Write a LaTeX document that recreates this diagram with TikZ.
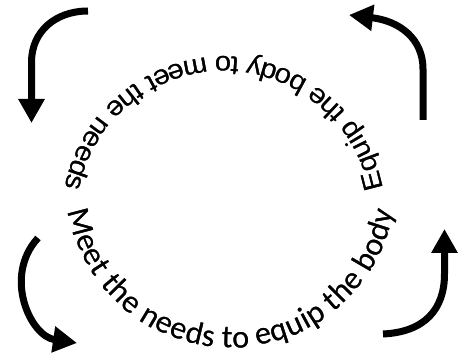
\documentclass[tikz,border=0pt]{standalone}
\usepackage{fontspec}
\newfontfamily\topfont[FakeStretch=1.08]{Liberation Sans}
\newfontfamily\botfont{Carlito}
\usetikzlibrary{decorations.text,arrows.meta}
\tikzset{
  bigarrow/.style={line width=7pt,-{Triangle[length=24pt,width=25pt]}},
  toptext/.style={decorate,decoration={text along path,text align={fit to path},
    text={|\color{#1}\topfont\fontsize{27}{27}\selectfont|Equip the body to meet the needs}}},
  bottext/.style={decorate,decoration={text along path,text align={fit to path},
    text={|\color{#1}\botfont\fontsize{32}{32}\selectfont|Meet the needs to equip the body}}},
}
\begin{document}
\begin{tikzpicture}[x=1pt,y=1pt]
\useasboundingbox (0,0) rectangle (467,354);
% circles for the texts
\coordinate (tc) at (224,135);
\coordinate (bc) at (231,171);
% shadows
\foreach \dx/\dy in {1.5/-1.5,2.5/-2.5,2/-3.5,3.5/-2,3/-3,4/-4} {
  \begin{scope}[opacity=0.22,shift={(\dx,\dy)}]
    \path[toptext=black] ([shift={(11:162)}]tc) arc[start angle=11,end angle=169,radius=162];
    \path[bottext=black] ([shift={(190:165)}]bc) arc[start angle=190,end angle=350,radius=165];
  \end{scope}
}
% texts
\path[toptext=black] ([shift={(11:162)}]tc) arc[start angle=11,end angle=169,radius=162];
\path[bottext=black] ([shift={(190:165)}]bc) arc[start angle=190,end angle=350,radius=165];
% arrows
\coordinate (a1s) at (88,343);
\coordinate (a1e) at (31.5,231);
\draw[bigarrow] (a1s) .. controls (55,343) and (31.5,322) .. (31.5,292) -- (a1e);
\coordinate (a2s) at (423,234);
\coordinate (a2e) at (349,339);
\draw[bigarrow] (a2s) -- (423,285) .. controls (423,315) and (400,333) .. (a2e);
\coordinate (a3s) at (38,116);
\coordinate (a3e) at (77,11);
\draw[bigarrow] (a3s) .. controls (3,78) and (30,18) .. (a3e);
\coordinate (a4s) at (383,20);
\coordinate (a4e) at (444.5,125);
\draw[bigarrow] (a4s) .. controls (425,22) and (444.5,45) .. (444.5,80) -- (a4e);
\end{tikzpicture}
\end{document}
